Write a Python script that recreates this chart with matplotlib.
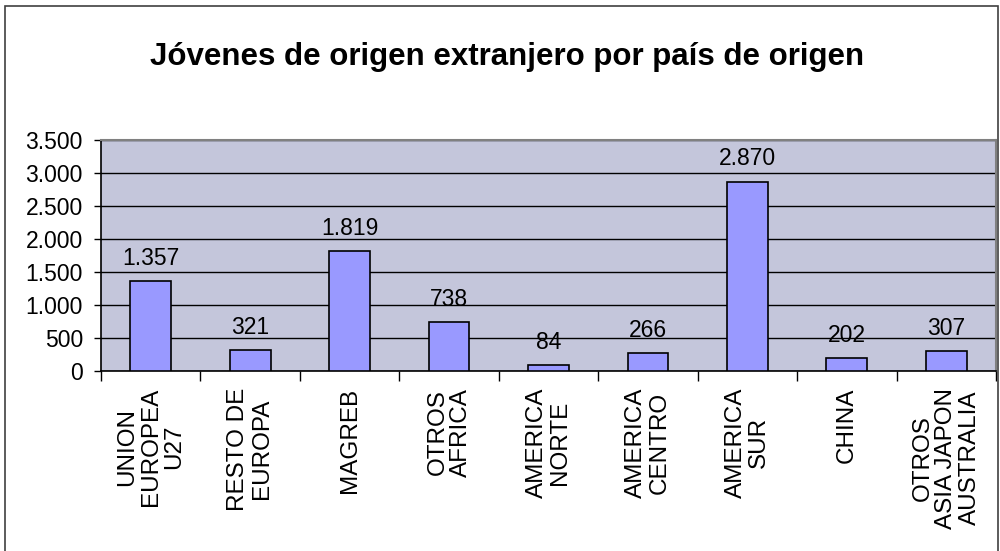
import matplotlib
matplotlib.use("Agg")
import matplotlib.pyplot as plt
from matplotlib.patches import Rectangle
import numpy as np

plt.rcParams['font.family'] = ['Liberation Sans', 'DejaVu Sans']

title = "Jóvenes de origen extranjero por país de origen"
categories = ["UNION\nEUROPEA\nU27", "RESTO DE\nEUROPA", "MAGREB", "OTROS\nAFRICA",
              "AMERICA\nNORTE", "AMERICA\nCENTRO", "AMERICA\nSUR", "CHINA",
              "OTROS\nASIA JAPON\nAUSTRALIA"]
values = [1357, 321, 1819, 738, 84, 266, 2870, 202, 307]
value_labels = ["1.357", "321", "1.819", "738", "84", "266", "2.870", "202", "307"]
yticks = [0, 500, 1000, 1500, 2000, 2500, 3000, 3500]
ytick_labels = ["0", "500", "1.000", "1.500", "2.000", "2.500", "3.000", "3.500"]

fig = plt.figure(figsize=(10, 5.51), dpi=100)
fig.patch.set_facecolor('white')

# outer frame
fig.add_artist(Rectangle((0.005, -0.01), 0.993, 0.999, transform=fig.transFigure,
                         fill=False, edgecolor='#404040', linewidth=1.2))

ax = fig.add_axes([0.101, 0.3267, 0.895, 0.4193])
ax.set_facecolor('#C4C6DB')
x = np.arange(len(categories))
ax.bar(x, values, width=0.41, color='#9999FF', edgecolor='black', linewidth=1.2, zorder=3)
ax.set_ylim(0, 3500)
ax.set_xlim(-0.5, len(categories) - 0.5)
ax.set_yticks(yticks)
ax.set_yticklabels(ytick_labels, fontsize=16.5)
ax.yaxis.grid(True, color='black', linewidth=1)
ax.set_axisbelow(True)
ax.tick_params(axis='y', length=5, width=1, pad=8)

ax.set_xticks(x)
ax.set_xticklabels(categories, rotation=90, fontsize=17.5, va='top', ha='center',
                   multialignment='center', linespacing=1.08)
ax.tick_params(axis='x', which='major', length=0, pad=12)
ax.set_xticks(np.arange(len(categories) + 1) - 0.5, minor=True)
ax.tick_params(axis='x', which='minor', length=7, width=1)

for s in ['left', 'bottom']:
    ax.spines[s].set_color('black')
    ax.spines[s].set_linewidth(1.2)
for s in ['top', 'right']:
    ax.spines[s].set_color('#808080')
    ax.spines[s].set_linewidth(1.5)

for xi, v, lab in zip(x, values, value_labels):
    ax.annotate(lab, (xi, v), xytext=(0, 8), textcoords='offset points',
                ha='center', va='bottom', fontsize=16.5)

fig.text(0.507, 0.897, title, ha='center', va='center', fontsize=22.5, fontweight='bold')

fig.savefig('out.png', dpi=100)
